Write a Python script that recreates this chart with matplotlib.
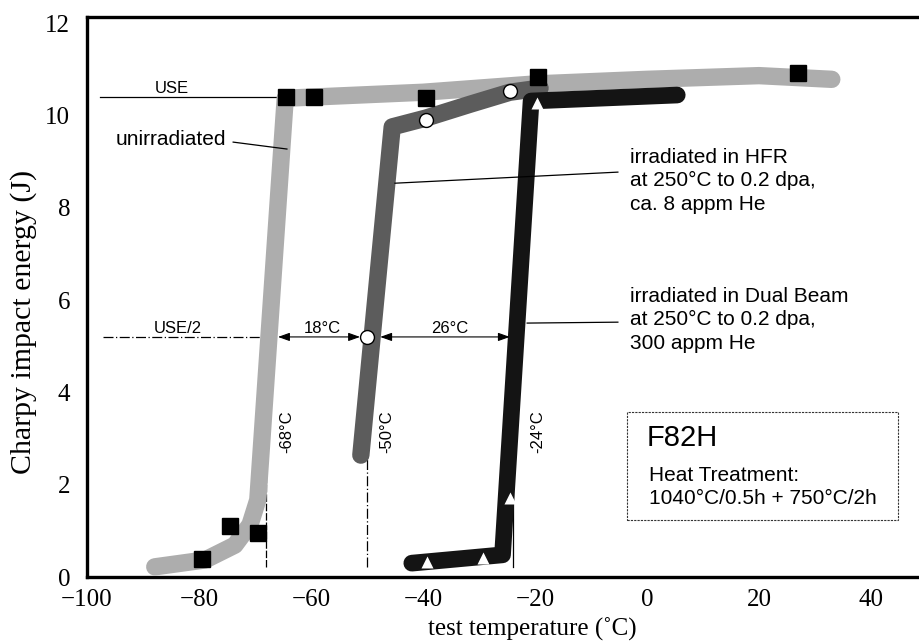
import matplotlib
matplotlib.use("Agg")
import matplotlib.pyplot as plt
from matplotlib.patches import Rectangle

SANS = ["Liberation Sans", "DejaVu Sans"]
SERIF = ["Liberation Serif", "DejaVu Serif"]

# ---- measured points -------------------------------------------------------
unirr_T = [-79.5, -74.5, -69.5, -64.5, -59.5, -39.5, -19.5, 27.0]
unirr_E = [0.39, 1.10, 0.95, 10.40, 10.40, 10.37, 10.83, 10.92]

hfr_T = [-50.0, -39.5, -24.5]
hfr_E = [5.2, 9.90, 10.53]

db_T = [-39.3, -29.3, -24.5, -19.6]
db_E = [0.32, 0.41, 1.71, 10.27]

# ---- hand-drawn transition bands ------------------------------------------
unirr_fit_T = [-87.9, -78.9, -73.6, -70.9, -69.5, -64.6, -40.0, -20.0, 0.0, 20.0, 33.0]
unirr_fit_E = [0.22, 0.37, 0.69, 1.13, 1.67, 10.37, 10.50, 10.68, 10.78, 10.86, 10.78]

hfr_fit_T = [-51.1, -45.5, -39.5, -31.6, -24.5, -19.1]
hfr_fit_E = [2.64, 9.75, 9.94, 10.24, 10.50, 10.59]

db_fit_T = [-42.0, -25.8, -20.7, 5.4]
db_fit_E = [0.30, 0.48, 10.31, 10.44]

# ---- characteristic values -------------------------------------------------
use_value = 10.4
half_use = 5.2
dbtt = [-68, -50, -24]
dbtt_labels = ["-68°C", "-50°C", "-24°C"]
shift_labels = ["18°C", "26°C"]

xticks = [-100, -80, -60, -40, -20, 0, 20, 40]
yticks = [0, 2, 4, 6, 8, 10, 12]

fig = plt.figure(figsize=(9.2, 6.43), dpi=100)
ax = fig.add_axes([87 / 920, 66 / 643, 833 / 920, 560 / 643])
ax.set_xlim(-100, 48.75)
ax.set_ylim(0, 12.13)

# bands
band_kw = dict(solid_capstyle="round", solid_joinstyle="round")
ax.plot(unirr_fit_T, unirr_fit_E, color="#adadad", lw=12.5, zorder=3, **band_kw)
ax.plot(hfr_fit_T, hfr_fit_E, color="#5c5c5c", lw=12.5, zorder=4, **band_kw)
ax.plot(db_fit_T, db_fit_E, color="#141414", lw=12.0, zorder=5, **band_kw)

# data markers
ax.plot(unirr_T, unirr_E, ls="none", marker="s", ms=11.5, color="black", zorder=7)
ax.plot(hfr_T, hfr_E, ls="none", marker="o", ms=10, mfc="white", mec="black",
        mew=1.0, zorder=7)
ax.plot(db_T, db_E, ls="none", marker="^", ms=9, mfc="white", mec="none", zorder=7)

# USE and USE/2 reference lines
ax.plot([-97.7, -64.5], [use_value, use_value], color="black", lw=0.9, zorder=2)
ax.text(-84.8, 10.59, "USE", family=SANS, fontsize=12,
        ha="center", va="center")
ax.plot([-97.1, dbtt[0]], [half_use, half_use], color="black", lw=0.9,
        ls=(0, (8, 2, 1, 2)), zorder=2)
ax.text(-83.75, 5.39, "USE/2", family=SANS, fontsize=12,
        ha="center", va="center")

# transition temperature markers
vstyles = [(0, (6, 1.5)), (0, (8, 2, 1, 2)), "-"]
label_x = [-64.3, -46.4, -19.5]
for t, lab, ls, lx in zip(dbtt, dbtt_labels, vstyles, label_x):
    ax.plot([t, t], [0.22, half_use], color="black", lw=0.9, ls=ls, zorder=2)
    ax.text(lx, 3.15, lab, family=SANS, fontsize=12, rotation=90,
            ha="center", va="center")

# shift arrows
arrow_kw = dict(arrowstyle="<|-|>,head_length=0.7,head_width=0.25",
                color="black", lw=0.8)
ax.annotate("", xy=(dbtt[1], half_use), xytext=(dbtt[0], half_use),
            arrowprops=dict(shrinkA=8.5, shrinkB=5, **arrow_kw), zorder=8)
ax.annotate("", xy=(dbtt[2], half_use), xytext=(dbtt[1], half_use),
            arrowprops=dict(shrinkA=9.5, shrinkB=2, **arrow_kw), zorder=8)
ax.text(-58.0, 5.39, shift_labels[0], family=SANS, fontsize=12,
        ha="center", va="center")
ax.text(-35.2, 5.39, shift_labels[1], family=SANS, fontsize=12,
        ha="center", va="center")

# curve labels with leader lines
ax.text(-85.0, 9.47, "unirradiated", family=SANS, fontsize=15,
        ha="center", va="center")
ax.plot([-73.9, -64.3], [9.42, 9.27], color="black", lw=0.9, zorder=6)

ax.plot([-45.0, -5.2], [8.53, 8.77], color="black", lw=0.9, zorder=6)
ax.text(-3.0, 8.58, "irradiated in HFR\nat 250°C to 0.2 dpa,\nca. 8 appm He",
        family=SANS, fontsize=15, ha="left", va="center", linespacing=1.3)

ax.plot([-21.4, -5.2], [5.5, 5.52], color="black", lw=0.9, zorder=6)
ax.text(-3.0, 5.57, "irradiated in Dual Beam\nat 250°C to 0.2 dpa,\n300 appm He",
        family=SANS, fontsize=15, ha="left", va="center", linespacing=1.3)

# material box
ax.add_patch(Rectangle((-3.57, 1.23), 48.4, 2.34, fill=False, lw=0.8,
                       ls=(0, (2, 1)), edgecolor="#333333", zorder=6))
ax.text(0.0, 3.01, "F82H", family=SANS, fontsize=21, ha="left", va="center")
ax.text(0.36, 2.19, "Heat Treatment:", family=SANS, fontsize=15,
        ha="left", va="center")
ax.text(0.36, 1.69, "1040°C/0.5h + 750°C/2h", family=SANS, fontsize=15,
        ha="left", va="center")

# axes styling
ax.set_xticks(xticks)
ax.set_yticks(yticks)
ax.set_xticklabels([("\u2212" + str(-v)) if v < 0 else str(v) for v in xticks],
                   family=SERIF, fontsize=18)
ax.set_yticklabels([str(v) for v in yticks], family=SERIF, fontsize=18)
ax.tick_params(axis="both", length=0)
ax.tick_params(axis="x", pad=9)
ax.tick_params(axis="y", pad=12)
for side in ("left", "bottom", "top"):
    ax.spines[side].set_linewidth(2.4)
ax.spines["right"].set_visible(False)

ax.set_xlabel("test temperature (˚C)", family=SERIF, fontsize=18)
ax.xaxis.set_label_coords(0.535, -0.073)
ax.set_ylabel("Charpy impact energy (J)", family=SERIF, fontsize=21.5)
ax.yaxis.set_label_coords(-0.06, 0.455)

fig.savefig("out.png", dpi=100)
